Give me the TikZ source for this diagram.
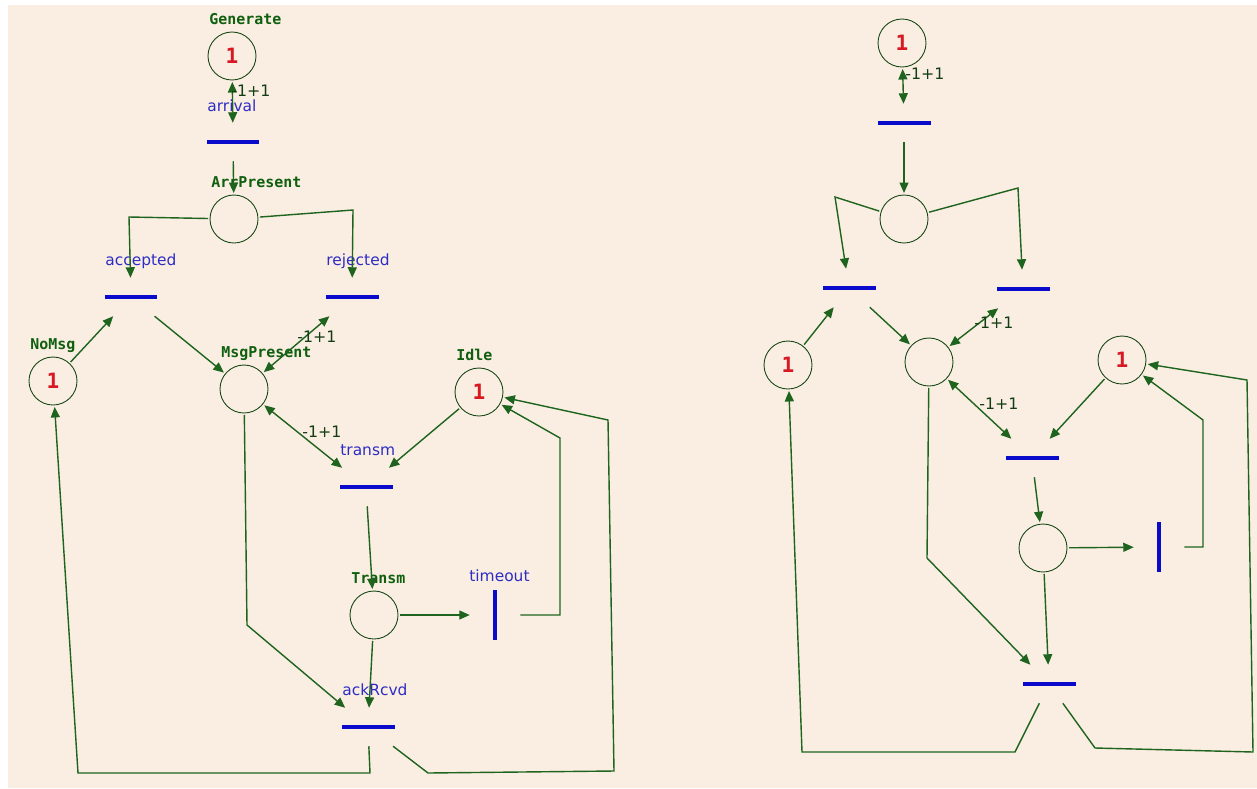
\documentclass[tikz,border=0pt]{standalone}
\usepackage{fontspec}
\setmainfont{DejaVu Sans}
\newfontfamily\netmono{DejaVu Sans Mono}
\usetikzlibrary{arrows.meta}

\definecolor{netbg}{RGB}{250,238,226}
\definecolor{arcgreen}{RGB}{30,100,30}
\definecolor{lblgreen}{RGB}{15,95,15}
\definecolor{trblue}{RGB}{10,10,205}
\definecolor{lblblue}{RGB}{45,45,195}
\definecolor{tokred}{RGB}{215,25,35}

\begin{document}
\begin{tikzpicture}[x=0.02cm, y=-0.02cm,
		place/.style={draw=arcgreen!70!black, circle, line width=0.5pt, minimum size=0.96cm, inner sep=0pt, outer sep=0.04cm, text=tokred, font=\netmono\bfseries\fontsize{12}{12}\selectfont},
		trans/.style={fill=trblue, rectangle, inner sep=0pt, minimum width=1.06cm, minimum height=0.09cm, outer xsep=0.08cm, outer ysep=0.34cm},
		vtrans/.style={fill=trblue, rectangle, inner sep=0pt, minimum width=0.09cm, minimum height=1.0cm, outer xsep=0.46cm, outer ysep=0.08cm},
		placelbl/.style={anchor=base west, inner sep=0pt, text=lblgreen, font=\netmono\bfseries\fontsize{8.5}{9}\selectfont},
		translbl/.style={anchor=base west, inner sep=0pt, text=lblblue, font=\fontsize{8.8}{9}\selectfont},
		weight/.style={inner sep=0pt, text=arcgreen!60!black, font=\fontsize{9}{9}\selectfont},
		flow/.style={draw=arcgreen, line width=0.8pt, -{Triangle[length=0.21cm, width=0.18cm]}},
		biflow/.style={flow, {Triangle[length=0.21cm, width=0.18cm]}-{Triangle[length=0.21cm, width=0.18cm]}}]

	\useasboundingbox (0, 0) rectangle (1257, 788);
	\fill[netbg] (8, 5) rectangle (1257, 788);

	% left net
	\draw (232, 56) 	node[place] 	(gen) 		{1};
	\draw (233, 142) 	node[trans] 	(arrival) 	{};
	\draw (234, 219) 	node[place] 	(arrPres) 	{};
	\draw (131, 297) 	node[trans] 	(accepted) 	{};
	\draw (352, 297) 	node[trans] 	(rejected) 	{};
	\draw (53, 381) 	node[place] 	(noMsg) 	{1};
	\draw (244, 389) 	node[place] 	(msgPres) 	{};
	\draw (479, 392) 	node[place] 	(idle) 		{1};
	\draw (366, 487) 	node[trans] 	(transm) 	{};
	\draw (374, 615) 	node[place] 	(transmP) 	{};
	\draw (495, 615) 	node[vtrans] 	(timeout) 	{};
	\draw (368, 727) 	node[trans] 	(ackRcvd) 	{};

	\node[placelbl] (gen-l) 	at ([shift={(-23,-32)}]gen.center) 		{Generate};
	\node[placelbl] (arrPres-l) at ([shift={(-23,-32)}]arrPres.center) 	{ArrPresent};
	\node[placelbl] (noMsg-l) 	at ([shift={(-23,-32)}]noMsg.center) 	{NoMsg};
	\node[placelbl] (msgPres-l) at ([shift={(-23,-32)}]msgPres.center) 	{MsgPresent};
	\node[placelbl] (idle-l) 	at ([shift={(-23,-32)}]idle.center) 	{Idle};
	\node[placelbl] (transmP-l) at ([shift={(-23,-32)}]transmP.center) 	{Transm};

	\node[translbl] (arrival-l) 	at ([shift={(-26,-31)}]arrival.center) 	{arrival};
	\node[translbl] (accepted-l) 	at ([shift={(-26,-32)}]accepted.center) {accepted};
	\node[translbl] (rejected-l) 	at ([shift={(-26,-32)}]rejected.center) {rejected};
	\node[translbl] (transm-l) 		at ([shift={(-26,-32)}]transm.center) 	{transm};
	\node[translbl] (timeout-l) 	at ([shift={(-26,-34)}]timeout.center) 	{timeout};
	\node[translbl] (ackRcvd-l) 	at ([shift={(-26,-32)}]ackRcvd.center) 	{ackRcvd};

	\draw[biflow] (gen) -- (arrival);
	\draw[flow] (arrival) -- (arrPres);
	\draw[flow] (arrPres) -- (129, 217) -- (accepted);
	\draw[flow] (arrPres) -- (353, 210) -- (rejected);
	\draw[flow] (noMsg) -- (accepted);
	\draw[flow] (accepted) -- (msgPres);
	\draw[biflow] (msgPres) -- (rejected);
	\draw[biflow] (msgPres) -- (transm);
	\draw[flow] (idle) -- (transm);
	\draw[flow] (transm) -- (transmP);
	\draw[flow] (transmP) -- (timeout);
	\draw[flow] (timeout) -- (560, 615) -- (560, 438) -- (idle);
	\draw[flow] (transmP) -- (ackRcvd);
	\draw[flow] (msgPres) -- (247, 625) -- (ackRcvd);
	\draw[flow] (ackRcvd) -- (370, 773) -- (78, 773) -- (noMsg);
	\draw[flow] (ackRcvd) -- (428, 773) -- (614, 771) -- (608, 420) -- (idle);

	\node[weight] (w1) at (251, 91) {-1+1};
	\node[weight] (w2) at (317, 337) {-1+1};
	\node[weight] (w3) at (322, 432) {-1+1};

	% right net
	\draw (902, 43) 	node[place] 	(genR) 		{1};
	\draw (904, 123) 	node[trans] 	(arrivalR) 	{};
	\draw (904, 219) 	node[place] 	(arrPresR) 	{};
	\draw (849, 288) 	node[trans] 	(acceptedR) {};
	\draw (1023, 289) 	node[trans] 	(rejectedR) {};
	\draw (788, 365) 	node[place] 	(noMsgR) 	{1};
	\draw (929, 362) 	node[place] 	(msgPresR) 	{};
	\draw (1122, 360) 	node[place] 	(idleR) 	{1};
	\draw (1032, 458) 	node[trans] 	(transmR) 	{};
	\draw (1043, 548) 	node[place] 	(transmPR) 	{};
	\draw (1159, 547) 	node[vtrans] 	(timeoutR) 	{};
	\draw (1049, 684) 	node[trans] 	(ackRcvdR) 	{};

	\draw[biflow] (genR) -- (arrivalR);
	\draw[flow] (arrivalR) -- (arrPresR);
	\draw[flow] (arrPresR) -- (835, 197) -- (acceptedR);
	\draw[flow] (arrPresR) -- (1018, 188) -- (rejectedR);
	\draw[flow] (noMsgR) -- (acceptedR);
	\draw[flow] (acceptedR) -- (msgPresR);
	\draw[biflow] (msgPresR) -- (rejectedR);
	\draw[biflow] (msgPresR) -- (transmR);
	\draw[flow] (idleR) -- (transmR);
	\draw[flow] (transmR) -- (transmPR);
	\draw[flow] (transmPR) -- (timeoutR);
	\draw[flow] (timeoutR) -- (1203, 547) -- (1203, 420) -- (idleR);
	\draw[flow] (transmPR) -- (ackRcvdR);
	\draw[flow] (msgPresR) -- (927, 558) -- (ackRcvdR);
	\draw[flow] (ackRcvdR) -- (1015, 752) -- (802, 752) -- (noMsgR);
	\draw[flow] (ackRcvdR) -- (1095, 748) -- (1253, 752) -- (1247, 380) -- (idleR);

	\node[weight] (w4) at (925, 74) {-1+1};
	\node[weight] (w5) at (994, 323) {-1+1};
	\node[weight] (w6) at (999, 404) {-1+1};
\end{tikzpicture}
\end{document}
